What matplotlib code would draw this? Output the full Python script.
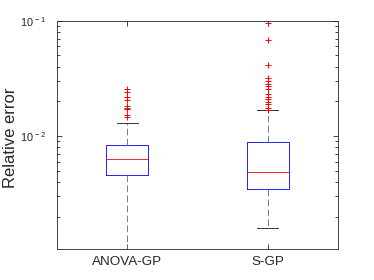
import numpy as np
import matplotlib
matplotlib.use("Agg")
import matplotlib.pyplot as plt
from matplotlib.ticker import LogLocator, FuncFormatter, NullFormatter

plt.rcParams['font.family'] = ['Liberation Sans', 'DejaVu Sans']
plt.rcParams['mathtext.fontset'] = 'custom'
plt.rcParams['mathtext.rm'] = 'Liberation Sans'
plt.rcParams['mathtext.it'] = 'Liberation Sans'

# =============================================================================
# Box statistics
# =============================================================================
methods = ["ANOVA-GP", "S-GP"]
med = [6.28e-3, 4.90e-3]
q1 = [4.56e-3, 3.45e-3]
q3 = [8.30e-3, 8.82e-3]
whislo = [1.05e-3, 1.58e-3]
whishi = [1.297e-2, 1.68e-2]

out_anova = [0.0256, 0.0241, 0.0216, 0.0205, 0.0182, 0.0175, 0.0171, 0.0151, 0.0145]
out_sgp = [0.0964, 0.0681, 0.0413, 0.0318, 0.0303, 0.0282, 0.0269, 0.0256,
           0.0231, 0.0220, 0.0209, 0.0197, 0.0188, 0.0175, 0.0168]
outliers = [out_anova, out_sgp]

stats = []
for i in range(len(methods)):
    stats.append(dict(label=methods[i], med=med[i], q1=q1[i], q3=q3[i],
                      whislo=whislo[i], whishi=whishi[i], fliers=outliers[i]))

axcol = '0.15'
fig = plt.figure(figsize=(3.74, 2.80), dpi=100)
ax = fig.add_axes([0.1516, 0.111, 0.7529, 0.815])

ax.bxp(stats, positions=[1, 2], widths=0.3, capwidths=0.15,
       boxprops=dict(color='#0000ff', linewidth=0.6),
       medianprops=dict(color='#ff0000', linewidth=0.6),
       whiskerprops=dict(color='0.4', linewidth=0.6, linestyle=(0, (8, 4))),
       capprops=dict(color='0.2', linewidth=0.7),
       flierprops=dict(marker='+', markeredgecolor='#ff0000', markersize=5,
                       markeredgewidth=0.7, linestyle='none'))

ax.set_yscale('log')
ax.set_ylim(1.05e-3, 0.1)
ax.set_xlim(0.5, 2.5)
ax.yaxis.set_major_locator(LogLocator(base=10, numticks=10))
ax.yaxis.set_minor_locator(LogLocator(base=10, subs=np.arange(2, 10), numticks=10))
ax.yaxis.set_major_formatter(FuncFormatter(
    lambda v, p: r'$\mathregular{10^{\,%d}}$' % int(round(np.log10(v)))))
ax.yaxis.set_minor_formatter(NullFormatter())
ax.set_xticks([1, 2])
ax.set_xticklabels(methods)

ax.tick_params(axis='both', which='both', direction='in', colors=axcol,
               top=True, right=True, width=0.6)
ax.tick_params(axis='both', which='major', length=3.5)
ax.tick_params(axis='y', which='minor', length=2)
ax.tick_params(axis='x', pad=5, labelsize=9.7)
ax.tick_params(axis='y', pad=7.7, labelsize=7.8)
for s in ax.spines.values():
    s.set_color(axcol)
    s.set_linewidth(0.6)

ax.set_ylabel("Relative error", fontsize=12, color=axcol)
ax.yaxis.set_label_coords(-0.1357, 0.485)

fig.savefig("out.png", dpi=100)
